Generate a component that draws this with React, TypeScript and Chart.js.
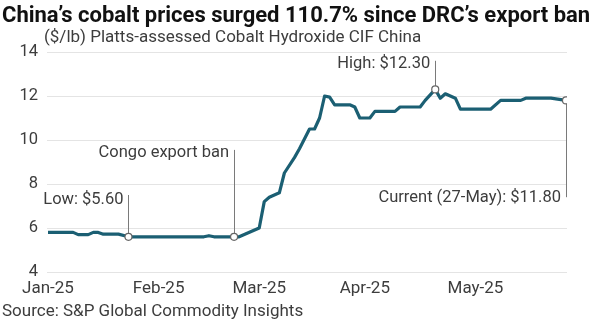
import React, { useEffect, useRef } from 'react';
import { Chart, registerables } from 'chart.js';

Chart.register(...registerables);

const TITLE = 'China’s cobalt prices surged 110.7% since DRC’s export ban';
const SUBTITLE = '($/lb) Platts-assessed Cobalt Hydroxide CIF China';
const SOURCE = 'Source: S&P Global Commodity Insights';

// business-day index (0 = 2-Jan-2025, 103 = 27-May-2025)
const dayIndex = [0, 5, 6, 8, 9, 10, 11, 14, 16, 31, 32, 33, 38, 42, 43, 44, 46, 47, 49, 50, 52, 53, 54, 55, 56, 57, 60, 61, 62, 64, 65, 69, 70, 74, 75, 77, 78, 79, 81, 82, 88, 90, 94, 95, 100, 103];
const price = [5.8, 5.8, 5.7, 5.7, 5.8, 5.8, 5.72, 5.72, 5.6, 5.6, 5.65, 5.6, 5.6, 6.0, 7.2, 7.4, 7.6, 8.5, 9.2, 9.6, 10.5, 10.5, 11.0, 12.0, 11.95, 11.6, 11.6, 11.5, 11.0, 11.0, 11.3, 11.3, 11.5, 11.5, 11.8, 12.3, 11.9, 12.1, 11.9, 11.4, 11.4, 11.8, 11.8, 11.9, 11.9, 11.8];

const monthIdx = [0, 22, 42, 63, 85];
const monthLabels = ['Jan-25', 'Feb-25', 'Mar-25', 'Apr-25', 'May-25'];
const yTicks = [4, 6, 8, 10, 12, 14];

const noteText = ['Low: $5.60', 'Congo export ban', 'High: $12.30', 'Current (27-May): $11.80'];
const noteIdx = [16, 37, 77, 103];
const noteValue = [5.6, 5.6, 12.3, 11.8];
const noteLineEnd = [7.5, 9.55, 13.6, 7.4];
const noteLabelAt = [7.3, 9.4, 13.45, 7.35];

const FONT = 'Roboto, "DejaVu Sans", sans-serif';
const LINE_COLOR = '#1b5f73';
const TEXT_COLOR = '#3d3d3d';

const annotationPlugin = {
  id: 'annotations',
  beforeDatasetsDraw(chart: any) {
    const { ctx, scales } = chart;
    const x = scales.x, y = scales.y;
    ctx.save();
    ctx.strokeStyle = '#7a7a7a';
    ctx.lineWidth = 1;
    for (let i = 0; i < noteIdx.length; i++) {
      const px = Math.round(x.getPixelForValue(noteIdx[i])) + 0.5;
      ctx.beginPath();
      ctx.moveTo(px, y.getPixelForValue(noteValue[i]));
      ctx.lineTo(px, y.getPixelForValue(noteLineEnd[i]));
      ctx.stroke();
    }
    ctx.restore();
  },
  afterDraw(chart: any) {
    const { ctx, scales } = chart;
    const x = scales.x, y = scales.y;
    ctx.save();
    ctx.textBaseline = 'middle';
    // annotation labels
    ctx.font = `16.5px ${FONT}`;
    ctx.fillStyle = TEXT_COLOR;
    ctx.textAlign = 'right';
    for (let i = 0; i < noteIdx.length; i++) {
      ctx.fillText(noteText[i], x.getPixelForValue(noteIdx[i]) - 5, y.getPixelForValue(noteLabelAt[i]));
    }
    ctx.textAlign = 'left';
    // title
    ctx.font = `bold 22px ${FONT}`;
    ctx.fillStyle = '#111111';
    ctx.fillText(TITLE, 2, 16);
    // subtitle
    ctx.font = `17px ${FONT}`;
    ctx.fillStyle = TEXT_COLOR;
    ctx.fillText(SUBTITLE, 44, 38);
    // source
    ctx.font = `17px ${FONT}`;
    ctx.fillText(SOURCE, 2, 312);
    ctx.restore();
  },
};

export default function App() {
  const ref = useRef<HTMLCanvasElement | null>(null);
  useEffect(() => {
    document.body.style.margin = '0';
    const canvas = ref.current;
    if (!canvas) return;
    const chart = new Chart(canvas, {
      type: 'line',
      data: {
        datasets: [
          {
            data: noteIdx.map((d, i) => ({ x: d, y: noteValue[i] })),
            showLine: false,
            pointRadius: 3.5,
            pointBackgroundColor: '#ffffff',
            pointBorderColor: '#666666',
            pointBorderWidth: 1.2,
            order: 0,
          },
          {
            data: dayIndex.map((d, i) => ({ x: d, y: price[i] })),
            borderColor: LINE_COLOR,
            borderWidth: 3.2,
            pointRadius: 0,
            tension: 0,
            fill: false,
            borderJoinStyle: 'round',
            order: 1,
          },
        ],
      },
      options: {
        responsive: false,
        animation: false,
        events: [],
        layout: { padding: { top: 52, right: 44, bottom: 21, left: 0 } },
        plugins: { legend: { display: false }, tooltip: { enabled: false }, title: { display: false } },
        scales: {
          x: {
            type: 'linear',
            min: -0.2,
            max: 103.2,
            grid: { display: false, drawTicks: false },
            border: { display: false },
            afterBuildTicks: (s: any) => {
              s.ticks = monthIdx.map((v) => ({ value: v }));
            },
            afterFit: (s: any) => {
              s.height = 30;
            },
            ticks: {
              autoSkip: false,
              maxRotation: 0,
              padding: 7,
              color: TEXT_COLOR,
              font: { family: FONT, size: 17 },
              callback: (v: any) => {
                const k = monthIdx.indexOf(Number(v));
                return k >= 0 ? monthLabels[k] : '';
              },
            },
          },
          y: {
            min: 4,
            max: 14,
            afterBuildTicks: (s: any) => {
              s.ticks = yTicks.map((v) => ({ value: v }));
            },
            afterFit: (s: any) => {
              s.width = 47;
            },
            grid: { color: '#e4e4e4', lineWidth: 1, drawTicks: false },
            border: { display: false },
            ticks: {
              padding: 9,
              color: TEXT_COLOR,
              font: { family: FONT, size: 16.5 },
            },
          },
        },
      },
      plugins: [annotationPlugin],
    } as any);
    return () => chart.destroy();
  }, []);
  return (
    <div style={{ width: 611, height: 323, background: '#ffffff' }}>
      <canvas ref={ref} width={611} height={323} style={{ display: 'block' }} />
    </div>
  );
}
